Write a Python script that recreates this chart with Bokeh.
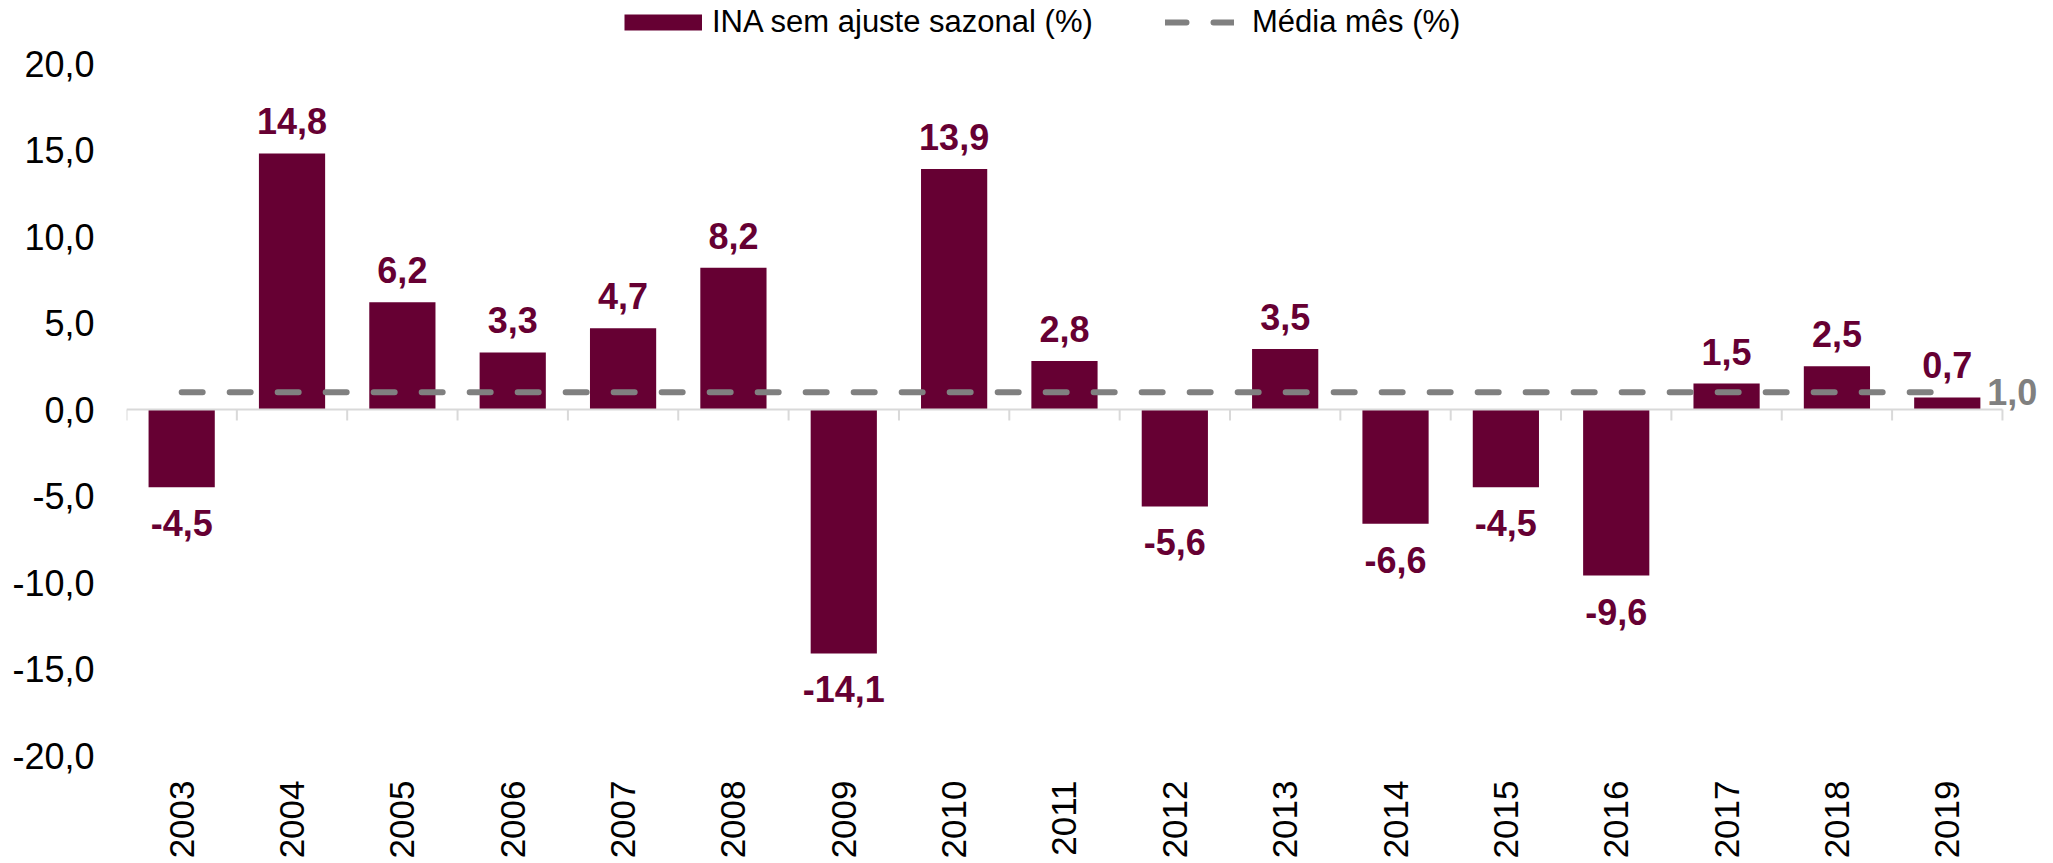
import math
from bokeh.plotting import figure
from bokeh.models import (ColumnDataSource, Range1d, FixedTicker,
                          Legend, LegendItem)
from bokeh.core.properties import value
from bokeh.embed import file_html
from bokeh.resources import INLINE

# ---- data ----
years = ["2003", "2004", "2005", "2006", "2007", "2008", "2009", "2010", "2011",
         "2012", "2013", "2014", "2015", "2016", "2017", "2018", "2019"]
ina = [-4.5, 14.8, 6.2, 3.3, 4.7, 8.2, -14.1, 13.9, 2.8,
       -5.6, 3.5, -6.6, -4.5, -9.6, 1.5, 2.5, 0.7]
media = [1.0] * len(years)
y_ticks = [-20, -15, -10, -5, 0, 5, 10, 15, 20]
y_tick_labels = ["-20,0", "-15,0", "-10,0", "-5,0", "0,0", "5,0", "10,0", "15,0", "20,0"]
series_names = ["INA sem ajuste sazonal (%)", "Média mês (%)"]

BAR = "#660033"
GRAY = "#808080"
AXIS = "#d9d9d9"
FONT = "Liberation Sans"

# layout (pixels)
W, H = 2050, 863
LEFT, BOTTOM = 126, 108
PLOT_TOP = 63            # pixel row of the top tick (20,0)
CAT_PX = 110.35          # width of one category in pixels


def fmt(v):
    return f"{v:.1f}".replace(".", ",")


idx = list(range(len(years)))
src = ColumnDataSource(dict(
    x=idx, top=ina, media=media,
    label=[fmt(v) for v in ina],
    yoff=[-32 if v >= 0 else 36 for v in ina],
))

frame_h = H - BOTTOM
unit_px = (frame_h - PLOT_TOP) / (y_ticks[-1] - y_ticks[0])
y_end = y_ticks[-1] + PLOT_TOP / unit_px          # headroom for the legend
x_end = len(years) - 0.5 + (W - LEFT - CAT_PX * len(years)) / CAT_PX  # room for end label

p = figure(width=W, height=H,
           x_range=Range1d(-0.5, x_end),
           y_range=Range1d(y_ticks[0], y_end),
           output_backend="svg", toolbar_location=None,
           min_border_left=LEFT, min_border_right=0,
           min_border_top=0, min_border_bottom=BOTTOM)
p.xgrid.visible = False
p.ygrid.visible = False
p.outline_line_color = None
p.background_fill_color = "white"

# bars
r_bar = p.vbar(x="x", top="top", bottom=0, width=0.6, source=src,
               fill_color=BAR, line_color=None)

# zero axis line with category-boundary ticks
bounds = [i - 0.5 for i in range(len(years) + 1)]
p.segment(x0=bounds[0], x1=bounds[-1], y0=0, y1=0, line_color=AXIS, line_width=2)
p.ray(x=bounds, y=[0] * len(bounds), length=11, length_units="screen",
      angle=-math.pi / 2, line_color=AXIS, line_width=2)

# average line
r_line = p.line(x="x", y="media", source=src, line_color=GRAY, line_width=6,
                line_dash="21 27", line_cap="round")

# bar value labels
p.text(x="x", y="top", text="label", source=src, y_offset="yoff",
       text_align="center", text_baseline="middle",
       text_font=value(FONT), text_font_style="bold", text_font_size="36px",
       text_color=BAR)

# average end label
p.text(x=[idx[-1]], y=[media[-1]], text=[fmt(media[-1])], x_offset=40,
       text_align="left", text_baseline="middle",
       text_font=value(FONT), text_font_style="bold",
       text_font_size="36px", text_color=GRAY)

# axes
xa = p.xaxis[0]
xa.ticker = FixedTicker(ticks=idx)
xa.major_label_overrides = {i: y for i, y in zip(idx, years)}
xa.major_label_orientation = math.pi / 2
xa.major_label_text_font = FONT
xa.major_label_text_font_size = "35px"
xa.major_label_text_color = "black"
xa.major_label_standoff = 25
xa.axis_line_color = None
xa.major_tick_line_color = None
xa.minor_tick_line_color = None
xa.major_tick_out = 0
xa.major_tick_in = 0

ya = p.yaxis[0]
ya.ticker = FixedTicker(ticks=y_ticks)
ya.major_label_overrides = {t: l for t, l in zip(y_ticks, y_tick_labels)}
ya.major_label_text_font = FONT
ya.major_label_text_font_size = "36px"
ya.major_label_text_color = "black"
ya.major_label_standoff = 32
ya.axis_line_color = None
ya.major_tick_line_color = None
ya.minor_tick_line_color = None
ya.major_tick_out = 0
ya.major_tick_in = 0

# legend: swatch drawn by a thick line renderer holding one empty (NaN) point
nan = float("nan")
swatch = p.line(x=[nan], y=[nan], line_color=BAR, line_width=16, line_cap="butt")
common = dict(orientation="horizontal", label_text_font=FONT,
              label_text_font_size="31px", label_text_color="black",
              glyph_height=40, label_height=40, padding=0, margin=0,
              border_line_color=None, background_fill_alpha=0)
leg1 = Legend(items=[LegendItem(label=series_names[0], renderers=[swatch])],
              location=(498, 713), glyph_width=78, label_standoff=10, **common)
leg2 = Legend(items=[LegendItem(label=series_names[1], renderers=[r_line])],
              location=(1039, 713), glyph_width=69, label_standoff=18, **common)
p.add_layout(leg1)
p.add_layout(leg2)

open("out.html", "w").write(file_html(p, INLINE))
